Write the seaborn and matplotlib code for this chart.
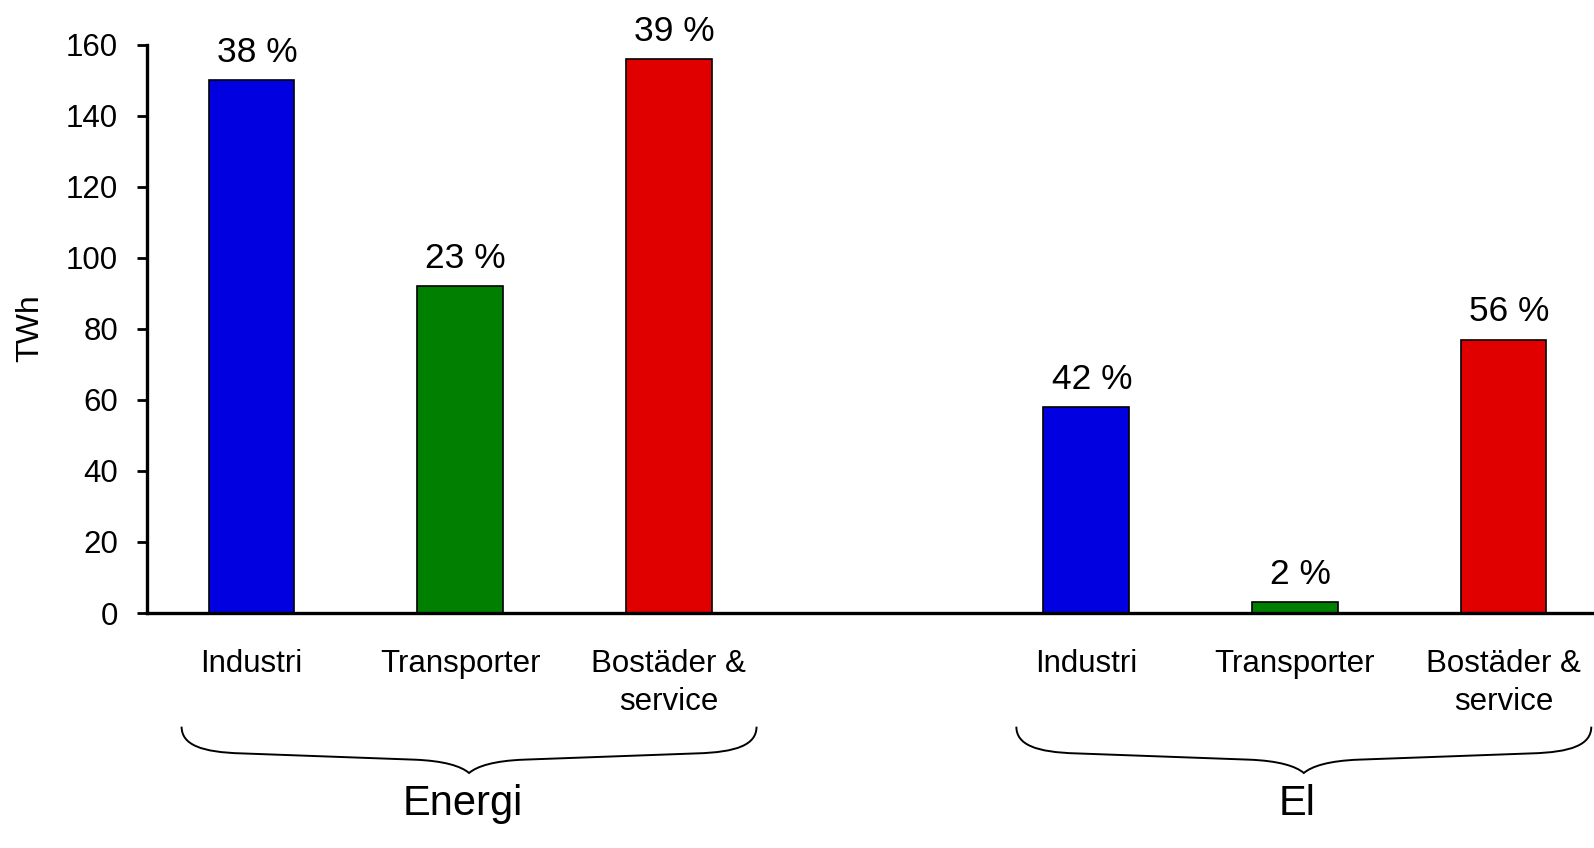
import matplotlib
matplotlib.use("Agg")
import numpy as np
import pandas as pd
import seaborn as sns
import matplotlib.pyplot as plt
from matplotlib.path import Path
from matplotlib.patches import PathPatch
from matplotlib.transforms import blended_transform_factory

# Final use per sector, total energy and electricity (TWh) with shares
groups = ["Energi", "El"]
sectors = ["Industri", "Transporter", "Bostäder &\nservice"]
energi_twh = [150, 92, 156]
el_twh = [58, 3, 77]
energi_share = ["38 %", "23 %", "39 %"]
el_share = ["42 %", "2 %", "56 %"]
sector_colors = ["#0000E0", "#007F00", "#E00000"]

rows = []
for g, (vals, shares) in enumerate(zip([energi_twh, el_twh], [energi_share, el_share])):
    for i, (s, v, p) in enumerate(zip(sectors, vals, shares)):
        # one empty slot between the two groups
        rows.append(dict(group=groups[g], sector=s, twh=v, share=p,
                         pos=g * (len(sectors) + 1) + i))
df = pd.DataFrame(rows)

sns.set_theme(style="white")
plt.rcParams["font.family"] = ["Liberation Sans", "DejaVu Sans"]
for key in ["text.color", "axes.labelcolor", "xtick.color", "ytick.color", "axes.edgecolor"]:
    plt.rcParams[key] = "black"

fig = plt.figure(figsize=(15.94, 8.48), dpi=100)
ax = fig.add_axes([0.0922, 0.2771, 0.9078, 0.6702])

sns.barplot(data=df, x="pos", y="twh", hue="sector", hue_order=sectors,
            palette=sector_colors, saturation=1, native_scale=True, dodge=False,
            width=0.41, edgecolor="black", linewidth=1.2, legend=False,
            errorbar=None, ax=ax)

ax.set_xlim(-0.501, 6.433)
ax.set_ylim(0, 160)
ax.set_yticks(range(0, 161, 20))
ax.set_xticks(df["pos"], df["sector"])
ax.set_xlabel("")
ax.set_ylabel("")
ax.tick_params(axis="x", length=0, pad=26, labelsize=22.5)
ax.tick_params(axis="y", left=True, length=7.2, width=2, pad=13.5,
               labelsize=22.5, direction="out")
for lab in ax.get_xticklabels():
    lab.set_linespacing(1.33)

ax.spines[["top", "right"]].set_visible(False)
for side in ["left", "bottom"]:
    ax.spines[side].set_linewidth(2.4)
    ax.spines[side].set_color("black")

fig.text(30 / 1594, 1 - 328 / 848, "TWh", rotation=90, ha="center", va="center",
         fontsize=23)

# share labels above each bar
for r in df.itertuples():
    ax.annotate(r.share, (r.pos, r.twh), xytext=(4, 13), textcoords="offset points",
                ha="center", va="baseline", fontsize=25.5)

# curly braces grouping the sectors
tr = blended_transform_factory(ax.transData, ax.transAxes)
u = 1 / 208.75  # data units per pixel along x


def draw_brace(left, right, y_top=-0.200, y_body=-0.245, y_mid=-0.258, y_tip=-0.2815):
    tip = (left + right) / 2
    verts = [
        (left, y_top),
        (left, y_top - 0.032), (left + 20 * u, y_body), (left + 60 * u, y_body - 0.002),
        (tip - 55 * u, y_mid),
        (tip - 25 * u, y_mid - 0.002), (tip - 8 * u, y_tip + 0.012), (tip, y_tip),
        (tip + 8 * u, y_tip + 0.012), (tip + 25 * u, y_mid - 0.002), (tip + 55 * u, y_mid),
        (right - 60 * u, y_body - 0.002),
        (right - 20 * u, y_body), (right, y_top - 0.032), (right, y_top),
    ]
    codes = ([Path.MOVETO] + [Path.CURVE4] * 3 + [Path.LINETO] + [Path.CURVE4] * 6
             + [Path.LINETO] + [Path.CURVE4] * 3)
    ax.add_patch(PathPatch(Path(verts, codes), transform=tr, facecolor="none",
                           edgecolor="black", linewidth=1.4, clip_on=False))


for name, sub in df.groupby("group", sort=False):
    draw_brace(sub["pos"].min() - 0.335, sub["pos"].max() + 0.42)
    ax.text(sub["pos"].mean() + 0.01, -0.3555, name, transform=tr, ha="center",
            va="baseline", fontsize=30)

fig.savefig("out.png", dpi=100)
